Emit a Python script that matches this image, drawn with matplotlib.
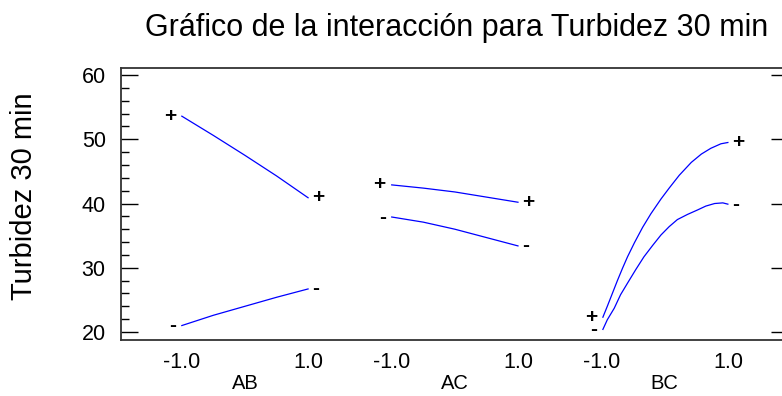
import matplotlib
matplotlib.use("Agg")
import matplotlib.pyplot as plt
from matplotlib.ticker import MultipleLocator, FixedLocator

plt.rcParams['font.family'] = ['Liberation Sans', 'DejaVu Sans']

# factor names and spacing of the three panels along x
factors = ['AB', 'AC', 'BC']
group_gap = 3.325

# lines of each interaction: local x (-1..1) and Turbidez 30 min values
ab_x = [-1.0, -0.5, 0.0, 0.5, 1.0]
ab_plus = [53.6, 50.6, 47.5, 44.3, 40.9]
ab_minus = [21.0, 22.6, 24.0, 25.4, 26.7]

ac_x = [-1.0, -0.5, 0.0, 0.5, 1.0]
ac_plus = [42.9, 42.4, 41.8, 41.0, 40.2]
ac_minus = [37.9, 37.1, 36.0, 34.7, 33.4]

bc_x = [-0.98, -0.91, -0.83, -0.75, -0.67, -0.59, -0.48, -0.35, -0.22,
        -0.06, 0.07, 0.23, 0.42, 0.58, 0.73, 0.89, 1.0]
bc_plus = [22.3, 24.0, 26.0, 28.0, 29.9, 31.7, 33.9, 36.3, 38.4,
           40.7, 42.4, 44.4, 46.4, 47.7, 48.6, 49.3, 49.5]
bc_x2 = [-0.98, -0.91, -0.80, -0.70, -0.59, -0.46, -0.33, -0.19, -0.06,
         0.07, 0.20, 0.36, 0.52, 0.65, 0.79, 0.92, 1.0]
bc_minus = [20.4, 21.9, 23.7, 25.8, 27.6, 29.7, 31.7, 33.5, 35.1,
            36.4, 37.5, 38.3, 39.0, 39.6, 40.0, 40.1, 39.9]

curves = [
    (ab_x, ab_plus, ab_x, ab_minus),
    (ac_x, ac_plus, ac_x, ac_minus),
    (bc_x, bc_plus, bc_x2, bc_minus),
]

# label offsets in pixels (start/end) for '+' and '-'
plus_off = [(-12, 0), (10, 0)]
minus_off = [(-9, 0), (8, 0)]

fig = plt.figure(figsize=(7.82, 3.96), dpi=100)
ax = fig.add_axes([121 / 782, 1 - 340 / 396, (788 - 121) / 782, (340 - 68) / 396])

for g, (xp, yp, xm, ym) in enumerate(curves):
    off = g * group_gap
    xp_s = [x + off for x in xp]
    xm_s = [x + off for x in xm]
    ax.plot(xp_s, yp, color='#0000ff', lw=0.9)
    ax.plot(xm_s, ym, color='#0000ff', lw=0.9)
    # start/end labels
    ax.annotate('+', (xp_s[0], yp[0]), xytext=plus_off[0], textcoords='offset pixels',
                ha='center', va='center', fontsize=15, fontweight='bold')
    ax.annotate('+', (xp_s[-1], yp[-1]), xytext=plus_off[1], textcoords='offset pixels',
                ha='center', va='center', fontsize=15, fontweight='bold')
    ax.annotate('-', (xm_s[0], ym[0]), xytext=minus_off[0], textcoords='offset pixels',
                ha='center', va='center', fontsize=15, fontweight='bold')
    ax.annotate('-', (xm_s[-1], ym[-1]), xytext=minus_off[1], textcoords='offset pixels',
                ha='center', va='center', fontsize=15, fontweight='bold')

px_per_unit = 63.0
ax.set_xlim(-1 - 60.7 / px_per_unit, 2 * group_gap + 1 + 60 / px_per_unit)
ax.set_ylim(18.75, 61.1)

# x tick labels -1.0 / 1.0 for each factor
xt = []
xl = []
for g in range(3):
    xt += [g * group_gap - 1, g * group_gap + 1]
    xl += ['-1.0', '1.0']
ax.xaxis.set_major_locator(FixedLocator(xt))
ax.set_xticklabels(xl, fontsize=15.5)
ax.tick_params(axis='x', length=0, pad=9)
for g, name in enumerate(factors):
    ax.text(g * group_gap, -0.16, name, transform=ax.get_xaxis_transform(),
            ha='center', va='center', fontsize=14.5)

ax.yaxis.set_major_locator(MultipleLocator(10))
ax.yaxis.set_minor_locator(MultipleLocator(2))
ax.tick_params(axis='y', which='major', direction='in', length=12, width=1,
               labelsize=15.5, pad=11, right=True)
ax.tick_params(axis='y', which='minor', direction='in', length=6, width=1, right=False)

for s in ax.spines.values():
    s.set_linewidth(1.3)
    s.set_color('#333333')

ax.set_ylabel('Turbidez 30 min', fontsize=21)
ax.yaxis.set_label_coords(-(121 - 38) / 667, 0.53)

fig.text(0.5 * (143 + 770) / 782, 1 - 28 / 396, 'Gráfico de la interacción para Turbidez 30 min',
         ha='center', va='center', fontsize=22)

fig.savefig('out.png', dpi=100)
